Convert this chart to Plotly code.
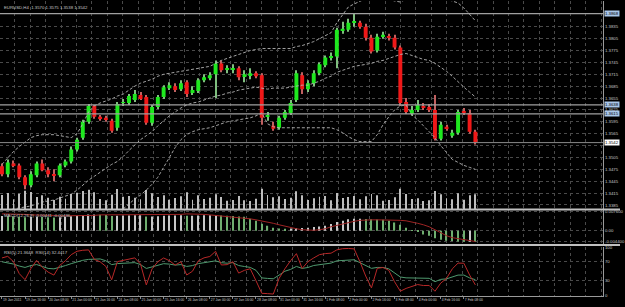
import plotly.graph_objects as go

# ---------------- data ----------------
symbol = "EURUSD,H4"

opens = [1.34825, 1.34625, 1.349, 1.3485, 1.3455, 1.3435, 1.346, 1.349, 1.34725, 1.34625,
         1.346, 1.3485, 1.3495, 1.3525, 1.3555, 1.3595, 1.3635, 1.36075, 1.3605, 1.35975,
         1.358, 1.36425, 1.36425, 1.365, 1.36625, 1.36575, 1.35925, 1.36325, 1.36575, 1.368,
         1.3685, 1.36775, 1.3695, 1.367, 1.36725, 1.37, 1.3705, 1.3715, 1.37425, 1.37275,
         1.37275, 1.373, 1.371, 1.37125, 1.37175, 1.37125, 1.36075, 1.3585, 1.358, 1.3605,
         1.36175, 1.365, 1.37125, 1.36775, 1.36925, 1.37175, 1.37375, 1.37575, 1.376, 1.3825,
         1.38275, 1.3845, 1.3845, 1.3835, 1.38075, 1.3775, 1.381, 1.381, 1.38075, 1.37825,
         1.3645, 1.3615, 1.3625, 1.3635, 1.36325, 1.3625, 1.35525, 1.35825, 1.356, 1.35675,
         1.362, 1.36175, 1.357]
highs = [1.349, 1.35, 1.34975, 1.349, 1.346, 1.347, 1.3495, 1.35, 1.348, 1.3475,
         1.349, 1.35, 1.35325, 1.3555, 1.36, 1.364, 1.36375, 1.36125, 1.361, 1.36025,
         1.3645, 1.36525, 1.3665, 1.3675, 1.367, 1.36625, 1.36375, 1.36625, 1.36875, 1.3695,
         1.36925, 1.37, 1.37, 1.3685, 1.3705, 1.3715, 1.372, 1.375, 1.375, 1.37375,
         1.374, 1.3735, 1.3725, 1.373, 1.37225, 1.37175, 1.362, 1.3595, 1.361, 1.3625,
         1.365, 1.3725, 1.372, 1.37, 1.3725, 1.3745, 1.37625, 1.377, 1.38325, 1.38475,
         1.3855, 1.387, 1.385, 1.38425, 1.3815, 1.38175, 1.38225, 1.38175, 1.3815, 1.37875,
         1.3655, 1.3635, 1.365, 1.36425, 1.364, 1.36625, 1.3595, 1.35875, 1.3575, 1.3625,
         1.363, 1.3625, 1.3575]
lows = [1.34575, 1.3455, 1.348, 1.345, 1.3425, 1.343, 1.3455, 1.347, 1.3455, 1.3445,
        1.3455, 1.348, 1.349, 1.352, 1.355, 1.359, 1.36025, 1.35975, 1.3595, 1.35675,
        1.35725, 1.3635, 1.36375, 1.3645, 1.365, 1.35875, 1.3585, 1.36275, 1.36525, 1.3675,
        1.367, 1.36725, 1.36575, 1.36625, 1.36675, 1.3695, 1.37, 1.3655, 1.372, 1.37175,
        1.37175, 1.37, 1.3695, 1.37025, 1.3705, 1.35875, 1.35975, 1.35725, 1.3575, 1.36,
        1.36125, 1.3645, 1.3665, 1.367, 1.3685, 1.37125, 1.37325, 1.375, 1.373, 1.38175,
        1.38225, 1.3835, 1.383, 1.38, 1.37675, 1.377, 1.3805, 1.38, 1.37775, 1.3635,
        1.3615, 1.361, 1.362, 1.3625, 1.362, 1.35475, 1.35475, 1.35725, 1.3555, 1.35625,
        1.36125, 1.3565, 1.35375]
closes = [1.34625, 1.34925, 1.3485, 1.3455, 1.3435, 1.34625, 1.349, 1.34725, 1.34625, 1.346,
          1.3485, 1.3495, 1.3525, 1.355, 1.3595, 1.3635, 1.36075, 1.36025, 1.36, 1.35725,
          1.364, 1.3645, 1.366, 1.3665, 1.36525, 1.35925, 1.36325, 1.36575, 1.36825, 1.36875,
          1.3675, 1.36925, 1.3665, 1.3675, 1.37, 1.37075, 1.37125, 1.37425, 1.3725, 1.37275,
          1.373, 1.37075, 1.3715, 1.37175, 1.371, 1.3605, 1.36075, 1.35775, 1.3605, 1.362,
          1.36425, 1.37175, 1.36775, 1.36925, 1.37175, 1.374, 1.37575, 1.376, 1.38275, 1.383,
          1.3845, 1.3845, 1.3835, 1.38075, 1.37725, 1.381, 1.3815, 1.38075, 1.37825, 1.36425,
          1.362, 1.3625, 1.36375, 1.363, 1.3625, 1.35525, 1.35875, 1.35775, 1.35675, 1.362,
          1.36175, 1.357, 1.35425]

bb_upper = [1.34875, 1.3505, 1.352, 1.35325, 1.3545, 1.3555, 1.356, 1.35625, 1.35625, 1.35625,
            1.356, 1.35575, 1.3555, 1.3565, 1.359, 1.362, 1.3635, 1.36425, 1.36475, 1.36525,
            1.366, 1.3665, 1.3675, 1.3685, 1.36925, 1.36975, 1.37025, 1.371, 1.3715, 1.37175,
            1.372, 1.37225, 1.3725, 1.37275, 1.373, 1.37325, 1.3735, 1.37425, 1.375, 1.3755,
            1.376, 1.3765, 1.377, 1.3775, 1.37775, 1.378, 1.378, 1.378, 1.378, 1.378,
            1.378, 1.3785, 1.37875, 1.37925, 1.37975, 1.3805, 1.38125, 1.382, 1.3845, 1.3865,
            1.3885, 1.38925, 1.39, 1.39075, 1.39125, 1.39125, 1.391, 1.3905, 1.39, 1.38975,
            1.3905, 1.39125, 1.39175, 1.392, 1.392, 1.3915, 1.391, 1.3905, 1.39, 1.3895,
            1.38825, 1.38675, 1.385]
bb_mid = [1.337, 1.33725, 1.3375, 1.33775, 1.338, 1.33825, 1.33875, 1.33925, 1.3395, 1.33975,
          1.34025, 1.34075, 1.34125, 1.34225, 1.3435, 1.34475, 1.34575, 1.34675, 1.34775, 1.34875,
          1.3495, 1.35075, 1.35225, 1.35375, 1.355, 1.356, 1.357, 1.3585, 1.35975, 1.361,
          1.362, 1.363, 1.36375, 1.36425, 1.3645, 1.365, 1.3655, 1.366, 1.36625, 1.36675,
          1.367, 1.3675, 1.36775, 1.368, 1.36825, 1.368, 1.36775, 1.368, 1.368, 1.368,
          1.36825, 1.3685, 1.36875, 1.36875, 1.36925, 1.36975, 1.3705, 1.371, 1.372, 1.3725,
          1.373, 1.3735, 1.37375, 1.374, 1.37425, 1.37475, 1.375, 1.3755, 1.376, 1.3765,
          1.37675, 1.37625, 1.37575, 1.37525, 1.375, 1.37425, 1.37325, 1.37225, 1.371, 1.3695,
          1.36825, 1.367, 1.36575]
bb_lower = [1.3245, 1.3235, 1.3225, 1.322, 1.3215, 1.322, 1.3225, 1.323, 1.3235, 1.324,
            1.3245, 1.325, 1.326, 1.327, 1.3285, 1.33, 1.3315, 1.333, 1.3345, 1.3355,
            1.3365, 1.3375, 1.33875, 1.34, 1.341, 1.34225, 1.34375, 1.3455, 1.348, 1.3505,
            1.353, 1.355, 1.35625, 1.357, 1.3575, 1.35775, 1.358, 1.3585, 1.359, 1.3595,
            1.35975, 1.36, 1.36025, 1.3605, 1.361, 1.36175, 1.359, 1.35825, 1.358, 1.358,
            1.358, 1.358, 1.358, 1.358, 1.358, 1.358, 1.358, 1.358, 1.3575, 1.35675,
            1.35575, 1.355, 1.3545, 1.3545, 1.3545, 1.35625, 1.35875, 1.36075, 1.3625, 1.3635,
            1.36375, 1.36125, 1.36, 1.3585, 1.357, 1.3555, 1.3535, 1.35175, 1.35, 1.34925,
            1.3485, 1.348, 1.3475]

volumes = [14200, 16100, 9800, 15300, 18400, 17200, 12100, 13900, 11200, 9100,
           12300, 10200, 15100, 16400, 18200, 19300, 16800, 10100, 8900, 14300,
           20100, 12200, 13100, 11300, 9800, 19200, 15800, 12100, 13800, 9200,
           11100, 12900, 16800, 9300, 13800, 10100, 11200, 14900, 12100, 8200,
           9100, 13200, 8800, 8100, 10200, 20300, 14100, 11900, 12800, 10100,
           11200, 17800, 13900, 9100, 10800, 12200, 13100, 8900, 16200, 11100,
           12100, 13200, 9900, 12800, 15100, 13900, 8200, 9100, 11800, 20400,
           15200, 10100, 10900, 8100, 8900, 18200, 14800, 10900, 9900, 15800,
           9200, 13800, 14900]

macd_main = [0.0060, 0.0059, 0.0057, 0.0055, 0.0054, 0.0055, 0.0056, 0.0055, 0.0054, 0.0053,
             0.0054, 0.0056, 0.0059, 0.0061, 0.0064, 0.0066, 0.0066, 0.0065, 0.0064, 0.0060,
             0.0061, 0.0062, 0.0062, 0.0063, 0.0063, 0.0058, 0.0058, 0.0059, 0.0061, 0.0062,
             0.0062, 0.0063, 0.0061, 0.0061, 0.0062, 0.0063, 0.0063, 0.0064, 0.0062, 0.0061,
             0.0060, 0.0058, 0.0056, 0.0048, 0.0040, 0.0028, 0.0020, 0.0012, 0.0009, 0.0008,
             0.0009, 0.0010, 0.0011, 0.0012, 0.0015, 0.0017, 0.0020, 0.0027, 0.0035, 0.0040,
             0.0046, 0.0048, 0.0048, 0.0047, 0.0046, 0.0045, 0.0044, 0.0040, 0.0033, 0.0024,
             0.0012, 0.0002, -0.0004, -0.0015, -0.0020, -0.0030, -0.0036, -0.0040, -0.0041, -0.0043,
             -0.0044, -0.0044, -0.00441]
macd_signal = [0.0068, 0.0068, 0.0068, 0.0066, 0.0066, 0.0064, 0.0064, 0.0064, 0.0062, 0.0062,
               0.0060, 0.0060, 0.0060, 0.0060, 0.0060, 0.0062, 0.0062, 0.0064, 0.0064, 0.0064,
               0.0064, 0.0064, 0.0064, 0.0064, 0.0064, 0.0064, 0.0064, 0.0064, 0.0064, 0.0066,
               0.0066, 0.0066, 0.0068, 0.0068, 0.0068, 0.0066, 0.0064, 0.0062, 0.0060, 0.0058,
               0.0056, 0.0054, 0.0052, 0.0048, 0.0044, 0.0040, 0.0036, 0.0030, 0.0024, 0.0018,
               0.0012, 0.0008, 0.0004, 0.0002, 0.0002, 0.0004, 0.0008, 0.0016, 0.0022, 0.0028,
               0.0034, 0.0038, 0.0042, 0.0044, 0.0044, 0.0044, 0.0044, 0.0044, 0.0044, 0.0042,
               0.0040, 0.0036, 0.0030, 0.0024, 0.0016, 0.0004, -0.0008, -0.0020, -0.0028, -0.0032,
               -0.0036, -0.0040, -0.00436]

rsi_fast = [78.2, 81.5, 70.3, 45.1, 32.4, 55.6, 73.1, 58.2, 48.3, 42.1,
            62.4, 72.3, 85.1, 92.2, 94.3, 95.1, 75.2, 70.1, 60.3, 32.2,
            70.4, 73.2, 76.1, 78.3, 65.2, 21.4, 55.3, 70.2, 78.1, 72.4,
            63.2, 70.1, 42.3, 50.2, 72.1, 78.4, 81.2, 92.1, 63.3, 64.1,
            70.2, 46.3, 52.1, 55.4, 30.2, 3.8, 3.1, 2.2, 35.1, 55.3,
            72.4, 87.2, 56.1, 70.3, 78.2, 85.1, 87.3, 88.2, 95.1, 97.6,
            98.1, 97.2, 70.3, 40.1, 15.2, 56.3, 58.1, 52.2, 28.1, 8.2,
            14.1, 18.3, 22.2, 20.1, 20.3, 8.1, 25.2, 35.1, 55.2, 67.3,
            67.1, 42.2, 21.3648]
rsi_slow = [70.1, 68.2, 65.3, 61.1, 58.2, 62.1, 64.3, 60.2, 56.1, 55.2,
            58.3, 62.1, 66.2, 70.1, 73.2, 75.1, 76.3, 76.1, 72.2, 64.1,
            66.3, 67.2, 68.1, 68.3, 64.2, 56.1, 59.3, 63.2, 66.1, 65.2,
            63.1, 64.2, 60.3, 62.1, 66.2, 68.1, 70.3, 72.1, 68.2, 67.1,
            68.3, 62.2, 60.1, 58.3, 52.1, 36.2, 35.1, 34.3, 42.1, 50.2,
            54.1, 60.3, 56.2, 58.1, 62.3, 64.2, 66.1, 67.3, 72.1, 73.2,
            74.1, 74.3, 68.2, 62.1, 56.3, 58.2, 58.1, 55.3, 46.2, 38.1,
            36.3, 36.1, 36.2, 35.1, 35.3, 28.2, 33.1, 34.2, 38.3, 42.1,
            42.2, 36.1, 32.4417]

time_labels = ["19 Jan 2011", "19 Jan 16:00", "20 Jan 08:00", "21 Jan 00:00", "21 Jan 16:00",
               "24 Jan 08:00", "25 Jan 00:00", "25 Jan 16:00", "26 Jan 08:00", "27 Jan 00:00",
               "27 Jan 16:00", "28 Jan 08:00", "31 Jan 00:00", "31 Jan 16:00", "1 Feb 08:00",
               "2 Feb 00:00", "2 Feb 16:00", "3 Feb 08:00", "4 Feb 00:00", "4 Feb 16:00",
               "7 Feb 08:00"]
label_every = 4
price_ticks = [1.3385, 1.3415, 1.3445, 1.3475, 1.3505, 1.3565, 1.3595,
               1.3625, 1.3655, 1.3685, 1.3715, 1.3745, 1.3775, 1.3805, 1.3835]
grid_prices = [1.3385, 1.3415, 1.3445, 1.3475, 1.3505, 1.3535, 1.3565, 1.3595,
               1.3625, 1.3655, 1.3685, 1.3715, 1.3745, 1.3775, 1.3805, 1.3835]
macd_ticks = [-0.0044, 0.0, 0.0076]
rsi_ticks = [0, 30, 70, 100]
hlines = [1.3868, 1.36375, 1.3615]
bid = closes[-1]

# ---------------- geometry / style ----------------
W, H = 625, 307
XR = 608 / W
FONT = "Liberation Sans, Arial, sans-serif"
TXT = "#c8c8c8"
GRID = "#4a4a4a"
BULL, BEAR = "#1ee81e", "#f01818"
BULL_W, BEAR_W = "#7fbf7f", "#c06060"
FS = 4.3
FS_T = 3.4


def dom(top_px, bot_px):
    return [1 - bot_px / H, 1 - top_px / H]


n = len(opens)
xs = list(range(n))
up = [c >= o for o, c in zip(opens, closes)]

fig = go.Figure()

# wicks
fig.add_trace(go.Bar(x=xs, base=lows, y=[h - l for h, l in zip(highs, lows)],
                     width=0.18, marker=dict(color=[BULL_W if u else BEAR_W for u in up], line_width=0),
                     xaxis="x", yaxis="y"))
# bodies
fig.add_trace(go.Bar(x=xs, base=[min(o, c) for o, c in zip(opens, closes)],
                     y=[max(abs(c - o), 0.00025) for o, c in zip(opens, closes)],
                     width=0.68, marker=dict(color=[BULL if u else BEAR for u in up], line_width=0),
                     xaxis="x", yaxis="y"))
# bollinger
for band in (bb_upper, bb_mid, bb_lower):
    fig.add_trace(go.Scatter(x=xs, y=band, mode="lines",
                             line=dict(color="#b4b4b4", width=0.9, dash="3px,2px"),
                             xaxis="x", yaxis="y"))
# volumes
fig.add_trace(go.Bar(x=xs, y=volumes, width=0.16, marker=dict(color="#bdbdbd", line_width=0),
                     xaxis="x", yaxis="y2"))
# macd
hist_cols = ["#c8c8c8" if (i == 0 or macd_main[i] >= macd_main[i - 1]) else "#6fae6f" for i in range(n)]
fig.add_trace(go.Bar(x=xs, y=macd_main, width=0.2, marker=dict(color=hist_cols, line_width=0),
                     xaxis="x2", yaxis="y3"))
fig.add_trace(go.Scatter(x=xs, y=macd_signal, mode="lines", line=dict(color="#9e2424", width=1),
                         xaxis="x2", yaxis="y3"))
# rsi
fig.add_trace(go.Scatter(x=xs, y=rsi_slow, mode="lines", line=dict(color="#4f9a6f", width=1),
                         xaxis="x3", yaxis="y4"))
fig.add_trace(go.Scatter(x=xs, y=rsi_fast, mode="lines", line=dict(color="#b82828", width=1),
                         xaxis="x3", yaxis="y4"))

bar_px = 5.82
xrange = [-0.34, -0.34 + 608 / bar_px]
grid_x = dict(showgrid=True, gridcolor=GRID, griddash="dot", gridwidth=1,
              tick0=2.23, dtick=2.672, showticklabels=False, ticks="", zeroline=False)

yfont = dict(family=FONT, size=FS, color=TXT)
ycommon = dict(side="right", showgrid=True, gridcolor=GRID, griddash="dot", gridwidth=1,
               zeroline=False, ticks="", tickfont=yfont, showline=True, linecolor="#9a9a9a",
               linewidth=1, fixedrange=True)

label_idx = [i * label_every for i in range(len(time_labels))]

fig.update_layout(
    width=W, height=H, margin=dict(l=0, r=0, t=0, b=0),
    paper_bgcolor="black", plot_bgcolor="black",
    showlegend=False, hovermode=False, barmode="overlay",
    xaxis=dict(domain=[0, XR], range=xrange, anchor="y", **grid_x),
    xaxis2=dict(domain=[0, XR], matches="x", anchor="y3", **grid_x),
    xaxis3=dict(domain=[0, XR], matches="x", anchor="y4", showgrid=False, zeroline=False,
                tickmode="array", tickvals=label_idx, ticktext=time_labels, tickangle=0,
                ticklabelposition="outside right", ticks="outside", ticklen=2, tickcolor="#888",
                tickfont=dict(family=FONT, size=FS_T, color=TXT),
                showline=True, linecolor="#9a9a9a", linewidth=1,
                minor=dict(showgrid=True, tick0=2.23, dtick=2.672, gridcolor=GRID,
                           griddash="dot", gridwidth=1, ticks="")),
    yaxis=dict(domain=dom(0, 210), anchor="x", range=[1.3375, 1.39], tickmode="array",
               tickvals=price_ticks, ticktext=[f"{p:.4f}" for p in price_ticks],
               minor=dict(tickmode="array", tickvals=grid_prices, showgrid=True, gridcolor=GRID,
                          griddash="dot", gridwidth=1, ticks=""),
               **ycommon),
    yaxis2=dict(overlaying="y", range=[0, 210000], visible=False, fixedrange=True),
    yaxis3=dict(domain=dom(211, 246), anchor="x2", range=[-0.0056, 0.0084], tickmode="array",
                tickvals=macd_ticks, ticktext=["%.6f" % v if v != 0 else "0.00" for v in macd_ticks],
                **ycommon),
    yaxis4=dict(domain=dom(248, 298), anchor="x3", range=[-2.08, 102.08], tickmode="array",
                tickvals=rsi_ticks, ticktext=[str(v) for v in rsi_ticks], **ycommon),
)

shapes = []
for p in hlines:
    shapes.append(dict(type="line", xref="paper", x0=0, x1=XR, yref="y", y0=p, y1=p,
                       line=dict(color="#a0a0a0", width=1.3)))
shapes.append(dict(type="line", xref="paper", x0=0, x1=XR, yref="y", y0=bid, y1=bid,
                   line=dict(color="#8a8a8a", width=1)))
for ypx in (210.5, 246.5):
    shapes.append(dict(type="line", xref="paper", x0=0, x1=1, yref="paper",
                       y0=1 - ypx / H, y1=1 - ypx / H, line=dict(color="#c0c0c0", width=2)))
fig.update_layout(shapes=shapes)

ann = []
title_font = dict(family=FONT, size=FS, color=TXT)
ann.append(dict(xref="paper", yref="paper", x=2 / W, y=1 - 2 / H, xanchor="left", yanchor="top",
                showarrow=False, font=title_font,
                text=f"{symbol}  {opens[-1]:.4f} {highs[-1]:.4f} {lows[-1]:.4f} {closes[-1]:.4f}"))
ann.append(dict(xref="paper", yref="paper", x=2 / W, y=1 - 212 / H, xanchor="left", yanchor="top",
                showarrow=False, font=title_font,
                text=f"MACD(12,26,9) {macd_main[-1]:.5f} {macd_signal[-1]:.5f}"))
ann.append(dict(xref="paper", yref="paper", x=2 / W, y=1 - 249 / H, xanchor="left", yanchor="top",
                showarrow=False, font=title_font,
                text=f"RSI(5) {rsi_fast[-1]:.4f}  RSI(14) {rsi_slow[-1]:.4f}"))
for p in hlines:
    ann.append(dict(xref="paper", yref="y", x=XR + 1 / W, y=p, xanchor="left", yanchor="middle",
                    showarrow=False, text=f"{p:.4f}", bgcolor="#a9c7ea", borderpad=0,
                    font=dict(family=FONT, size=FS, color="#000")))
ann.append(dict(xref="paper", yref="y", x=XR + 1 / W, y=bid, xanchor="left", yanchor="middle",
                showarrow=False, text=f"{bid:.4f}", bgcolor="#ffffff", borderpad=0,
                font=dict(family=FONT, size=FS, color="#000")))
fig.update_layout(annotations=ann)

fig.write_html("out.html")
